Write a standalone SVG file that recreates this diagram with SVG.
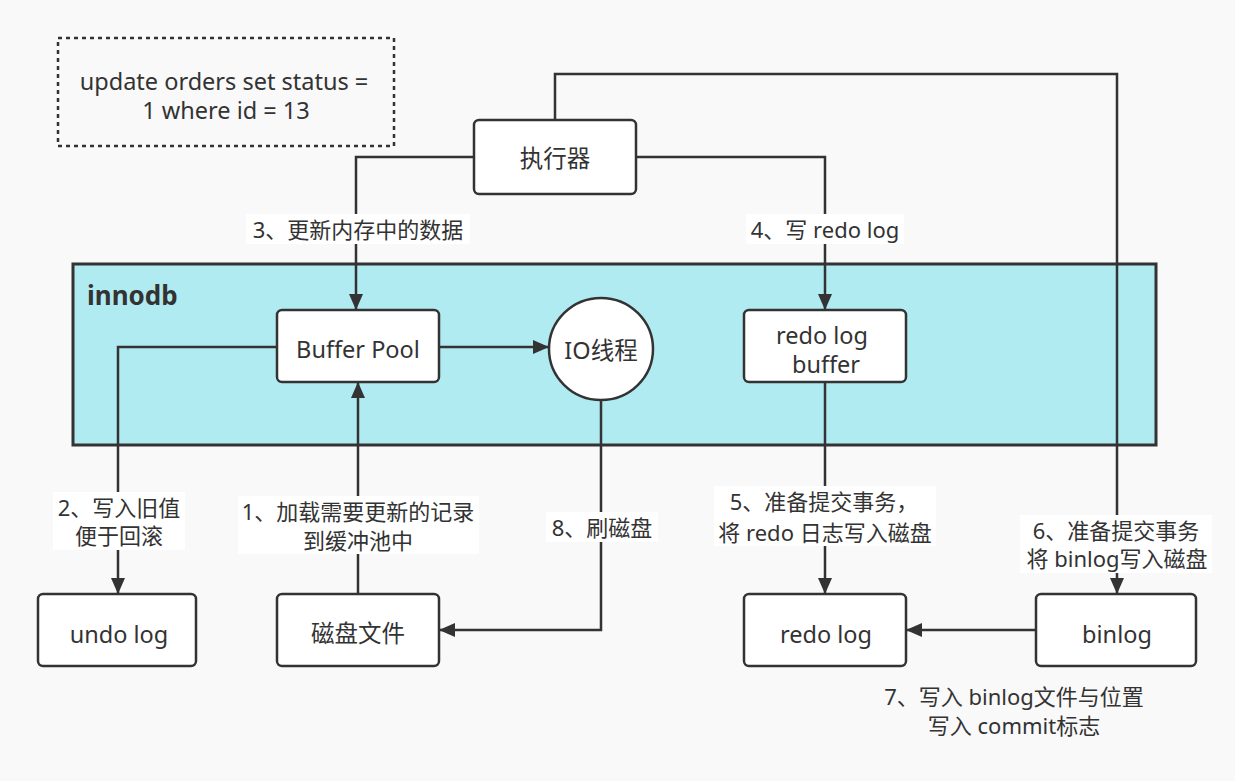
<svg xmlns="http://www.w3.org/2000/svg" width="1235" height="781" viewBox="0 0 1235 781">
<style>
  .node rect { fill: #ffffff; stroke: #333333; stroke-width: 2.5; }
  .node ellipse { fill: #ffffff; stroke: #333333; stroke-width: 2.5; }
  .t { font-family: "Noto Sans", "Noto Sans CJK SC", sans-serif; font-size: 23.5px; fill: #333333; text-anchor: middle; dominant-baseline: central; }
  .lbl { font-family: "Noto Sans", "Noto Sans CJK SC", sans-serif; font-size: 22px; fill: #333333; text-anchor: middle; dominant-baseline: central; }
  .lblbg { fill: #ffffff; }
  .conn path { fill: none; stroke: #333333; stroke-width: 2.5; }
</style>
<defs>
  <marker id="arr" markerUnits="userSpaceOnUse" markerWidth="16" markerHeight="14" viewBox="0 0 16 14" refX="16" refY="7" orient="auto">
    <path d="M0,0 L16,7 L0,14 Z" fill="#333333"/>
  </marker>
</defs>
<rect x="0" y="0" width="1235" height="781" fill="#f9f9f9"/>

<g id="sql-note">
  <rect x="58" y="38" width="336" height="108" fill="none" stroke="#333333" stroke-width="2.5" stroke-dasharray="4 4"/>
  <text class="t"><tspan x="224" y="81">update orders set status =</tspan><tspan x="226" y="110">1 where id = 13</tspan></text>
</g>

<g id="innodb">
  <rect x="73" y="264" width="1083" height="181" fill="#b1ebf2" stroke="#333333" stroke-width="3"/>
  <text x="87" y="295" font-family="'Noto Sans', 'Noto Sans CJK SC', sans-serif" font-size="26" font-weight="bold" fill="#333333" dominant-baseline="central">innodb</text>
</g>

<g id="connectors" class="conn">
  <path d="M555,120 L555,74 L1117,74 L1117,594" marker-end="url(#arr)"/>
  <path d="M474,157 L356,157 L356,310" marker-end="url(#arr)"/>
  <path d="M636,157 L825,157 L825,310" marker-end="url(#arr)"/>
  <path d="M439,347 L549,347" marker-end="url(#arr)"/>
  <path d="M277,347 L118,347 L118,594" marker-end="url(#arr)"/>
  <path d="M358,594 L358,382" marker-end="url(#arr)"/>
  <path d="M601,400 L601,630 L439,630" marker-end="url(#arr)"/>
  <path d="M825,382 L825,594" marker-end="url(#arr)"/>
  <path d="M1036,630 L906,630" marker-end="url(#arr)"/>
</g>

<g id="executor" class="node">
  <rect x="474" y="120" width="162" height="74" rx="5"/>
  <text class="t" x="555" y="158">执行器</text>
</g>
<g id="buffer-pool" class="node">
  <rect x="277" y="310" width="162" height="72" rx="5"/>
  <text class="t" x="358" y="349">Buffer Pool</text>
</g>
<g id="io-thread" class="node">
  <ellipse cx="601" cy="349" rx="52" ry="51"/>
  <text class="t" x="601" y="350">IO线程</text>
</g>
<g id="redo-log-buffer" class="node">
  <rect x="744" y="310" width="162" height="72" rx="5"/>
  <text class="t"><tspan x="822" y="335">redo log</tspan><tspan x="826" y="364">buffer</tspan></text>
</g>
<g id="undo-log" class="node">
  <rect x="38" y="594" width="158" height="72" rx="5"/>
  <text class="t" x="119" y="634">undo log</text>
</g>
<g id="disk-file" class="node">
  <rect x="277" y="594" width="162" height="72" rx="5"/>
  <text class="t" x="358" y="633">磁盘文件</text>
</g>
<g id="redo-log" class="node">
  <rect x="744" y="594" width="162" height="72" rx="5"/>
  <text class="t" x="826" y="634">redo log</text>
</g>
<g id="binlog" class="node">
  <rect x="1036" y="594" width="160" height="72" rx="5"/>
  <text class="t" x="1117" y="634">binlog</text>
</g>

<g id="labels">
  <rect class="lblbg" x="246" y="214" width="224" height="30"/>
  <text class="lbl" x="358" y="229">3、更新内存中的数据</text>

  <rect class="lblbg" x="746" y="214" width="158" height="30"/>
  <text class="lbl" x="825" y="229">4、写 redo log</text>

  <rect class="lblbg" x="53" y="492" width="132" height="58"/>
  <text class="lbl"><tspan x="119" y="507">2、写入旧值</tspan><tspan x="119" y="535">便于回滚</tspan></text>

  <rect class="lblbg" x="238" y="496" width="241" height="58"/>
  <text class="lbl"><tspan x="358" y="511">1、加载需要更新的记录</tspan><tspan x="358" y="540">到缓冲池中</tspan></text>

  <rect class="lblbg" x="546" y="512" width="112" height="30"/>
  <text class="lbl" x="602" y="527">8、刷磁盘</text>

  <rect class="lblbg" x="714" y="486" width="222" height="60"/>
  <text class="lbl"><tspan x="824" y="501">5、准备提交事务，</tspan><tspan x="825" y="532">将 redo 日志写入磁盘</tspan></text>

  <rect class="lblbg" x="1020" y="515" width="192" height="58"/>
  <text class="lbl"><tspan x="1116" y="530">6、准备提交事务</tspan><tspan x="1117" y="558">将 binlog写入磁盘</tspan></text>

  <text class="lbl"><tspan x="1014" y="696">7、写入 binlog文件与位置</tspan><tspan x="1014" y="725">写入 commit标志</tspan></text>
</g>
</svg>
